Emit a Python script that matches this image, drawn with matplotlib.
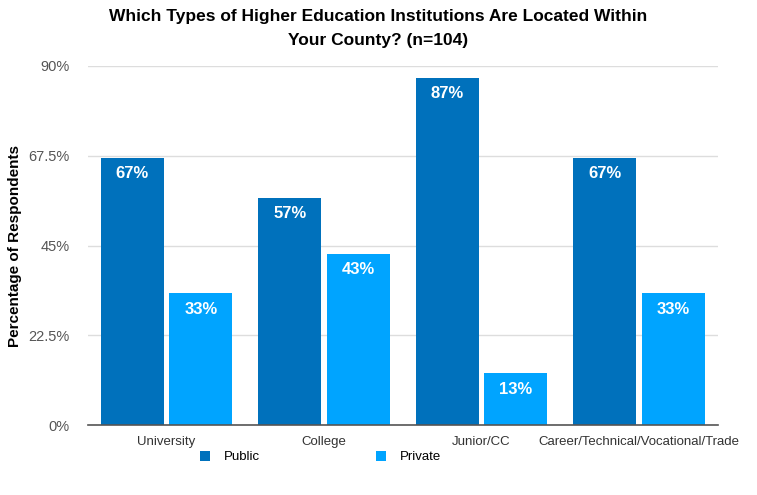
import numpy as np
import matplotlib.pyplot as plt

plt.rcParams['font.family'] = ['Liberation Sans', 'DejaVu Sans']

categories = ["University", "College", "Junior/CC", "Career/Technical/Vocational/Trade"]
public = [67, 57, 87, 67]
private = [33, 43, 13, 33]
yticks = [0, 22.5, 45, 67.5, 90]
ytick_labels = ["0%", "22.5%", "45%", "67.5%", "90%"]

c_pub = "#0071BC"
c_priv = "#00A4FF"

fig = plt.figure(figsize=(7.57, 4.95), dpi=100)
ax = fig.add_axes([0.116, 0.141, 0.832, 0.726])

x = np.arange(len(categories))
w = 0.4
off = 0.218
b1 = ax.bar(x - off, public, w, color=c_pub, label="Public", zorder=3)
b2 = ax.bar(x + off, private, w, color=c_priv, label="Private", zorder=3)

for bars in (b1, b2):
    for r in bars:
        ax.annotate(f"{r.get_height():.0f}%", (r.get_x() + r.get_width() / 2, r.get_height()),
                    xytext=(0, -6), textcoords="offset points", ha="center", va="top",
                    color="white", fontsize=12, fontweight="bold", zorder=4)

ax.set_xlim(-0.5, len(categories) - 0.5)
ax.set_ylim(0, 90)
ax.set_yticks(yticks)
ax.set_yticklabels(ytick_labels, fontsize=10.5, color="#555555")
ax.set_xticks(x)
ax.set_xticklabels(categories, fontsize=9.5, color="#333333")
ax.tick_params(axis="y", length=0, pad=13)
ax.tick_params(axis="x", length=0, pad=8)
ax.grid(axis="y", color="#DDDDDD", linewidth=1, zorder=0)
for s in ["top", "right", "left"]:
    ax.spines[s].set_visible(False)
ax.spines["bottom"].set_color("#555555")
ax.spines["bottom"].set_linewidth(1.2)
ax.spines["bottom"].set_zorder(5)

ax.set_ylabel("Percentage of Respondents", fontsize=11, fontweight="bold", labelpad=5)
fig.suptitle("Which Types of Higher Education Institutions Are Located Within\nYour County? (n=104)",
             fontsize=12.5, fontweight="bold", y=0.982, x=0.5, linespacing=1.75)

fig.legend(handles=[b1, b2], loc="center", bbox_to_anchor=(0.423, 0.077), ncol=2,
           frameon=False, fontsize=9.5, handlelength=0.8, handleheight=0.8,
           columnspacing=8.8, handletextpad=1.0)

fig.savefig("out.png", dpi=100)
